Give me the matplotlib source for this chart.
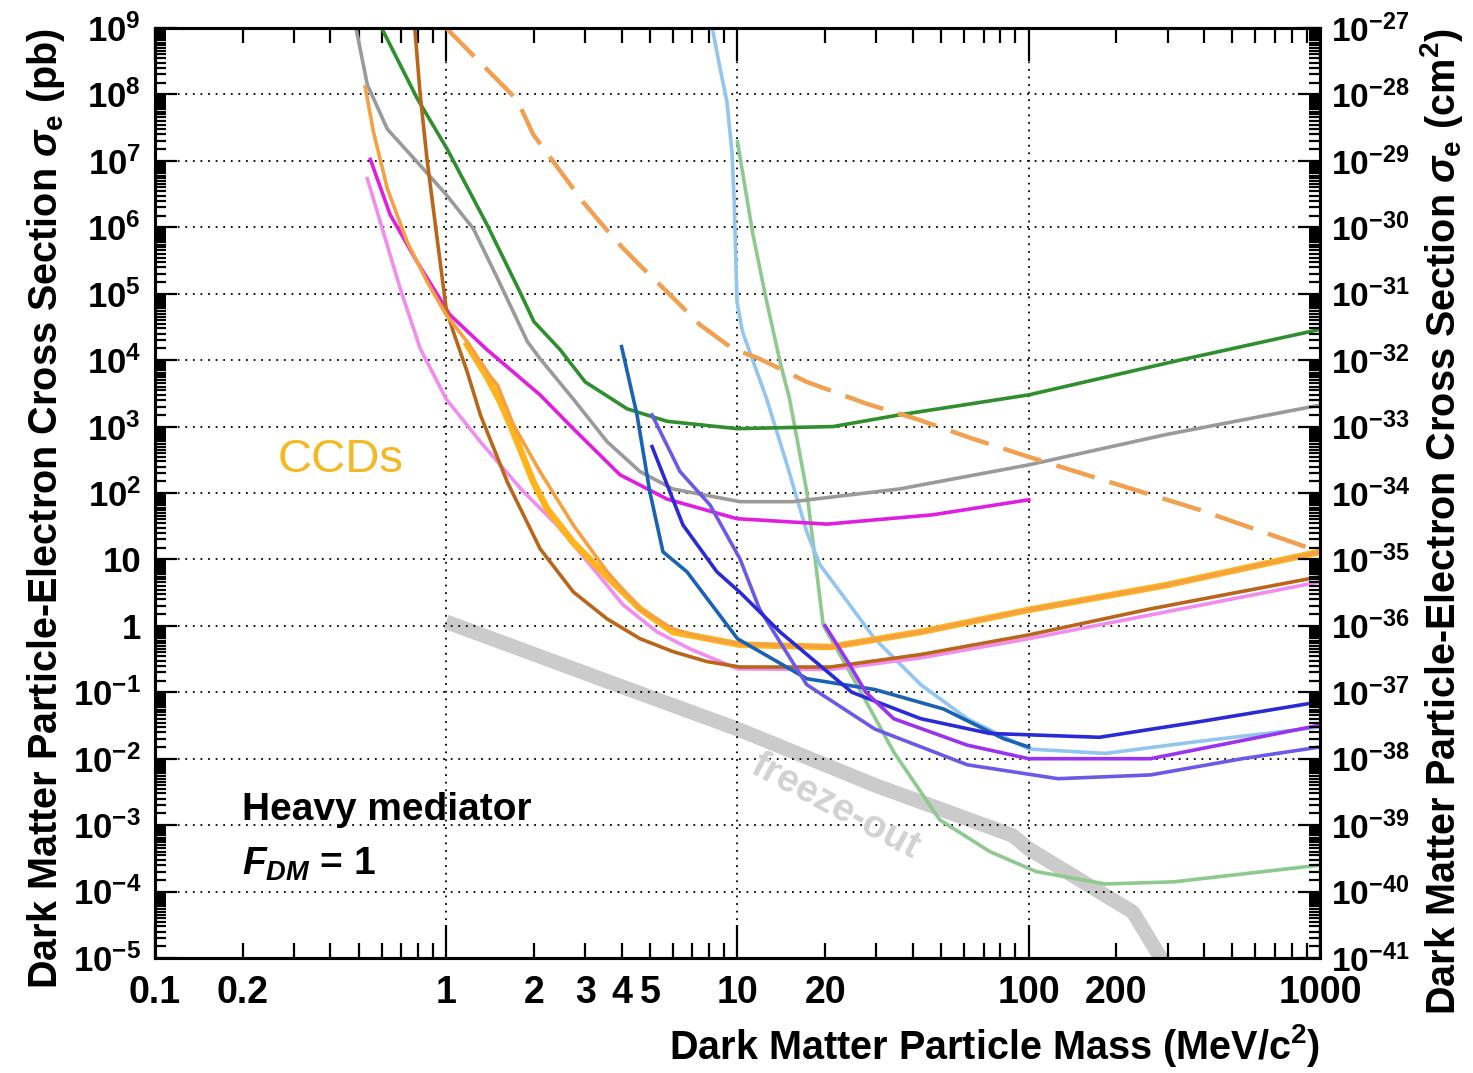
import numpy as np
import matplotlib
matplotlib.use("Agg")
import matplotlib.pyplot as plt
from matplotlib.ticker import LogLocator, FuncFormatter, NullFormatter, FixedLocator

plt.rcParams['font.family'] = ['Liberation Sans', 'DejaVu Sans']
plt.rcParams['mathtext.fontset'] = 'custom'
plt.rcParams['mathtext.rm'] = 'Liberation Sans:bold'
plt.rcParams['mathtext.bf'] = 'Liberation Sans:bold'
plt.rcParams['mathtext.it'] = 'Liberation Sans:italic:bold'

# ---------------- data (mass in MeV/c^2, cross section in pb) ----------------
green_m = [0.6, 0.795, 1.008, 1.38, 1.79, 2.0, 2.46, 3.0, 4.18, 5.73, 9.96, 21.3, 36, 100, 330, 1000]
green_s = [1e9, 8.7e7, 1.5e7, 1.1e6, 1.07e5, 3.8e4, 1.44e4, 4.7e3, 1.85e3, 1.2e3, 930, 1000, 1.5e3, 3e3, 1e4, 2.9e4]

gray_m = [0.49, 0.536, 0.628, 0.834, 1.0, 1.24, 1.50, 1.90, 2.1, 2.73, 3.57, 4.63, 6.0, 10.2, 15.5, 36, 100, 297, 1000]
gray_s = [1e9, 1.4e8, 3.0e7, 7.6e6, 3.1e6, 9.5e5, 1.7e5, 1.9e4, 1.05e4, 2.6e3, 590, 210, 115, 74, 74, 115, 265, 760, 2.1e3]

magenta_m = [0.549, 0.642, 0.795, 1.03, 1.38, 2.1, 2.73, 3.95, 5.73, 9.96, 20.3, 46.9, 100]
magenta_s = [1.05e7, 1.55e6, 3.0e5, 4.8e4, 1.44e4, 3e3, 930, 188, 81, 41, 34, 47, 79]

orange_m = [0.527, 0.562, 0.628, 0.735, 0.861, 1.0, 1.18, 1.42, 1.50, 1.70, 2.1, 2.73, 3.57, 4.63, 6.0, 7.85, 10.2, 20.8, 42.6, 100, 297, 1000]
orange_s = [1.3e8, 2.8e7, 3.8e6, 6e5, 1.5e5, 4.8e4, 1.9e4, 5.6e3, 4.2e3, 1.07e3, 209, 33, 6.5, 1.8, 0.9, 0.64, 0.54, 0.48, 0.81, 1.74, 4.1, 13]

gold_m = [1.18, 1.38, 1.53, 1.70, 1.99, 2.22, 2.73, 3.57, 4.63, 6.0, 10.2, 20.8, 42.6, 100, 297, 1000]
gold_s = [1.7e4, 5.6e3, 2.4e3, 830, 147, 58, 18, 5.5, 1.8, 0.81, 0.52, 0.48, 0.81, 1.74, 4.1, 13]

brown_m = [0.78, 0.814, 0.861, 0.931, 1.0, 1.057, 1.18, 1.31, 1.62, 2.1, 2.73, 3.57, 4.63, 6.0, 7.85, 10.2, 20.8, 42.6, 100, 262, 1000]
brown_s = [1e9, 1e8, 9.8e6, 6.7e5, 5.9e4, 2.7e4, 6.7e3, 1.5e3, 147, 14.5, 3.25, 1.27, 0.64, 0.41, 0.29, 0.24, 0.24, 0.37, 0.73, 1.8, 5.5]

pink_m = [0.536, 0.594, 0.695, 0.814, 1.0, 1.31, 1.84, 2.4, 3.12, 4.05, 5.3, 6.87, 10, 20.8, 42.6, 100, 1000]
pink_s = [5.4e6, 1.2e6, 1.2e5, 1.5e4, 2.6e3, 590, 105, 33, 8.3, 2.07, 0.81, 0.45, 0.225, 0.22, 0.33, 0.64, 4.6]

dashed_m = [1.0, 1.75, 1.99, 2.95, 3.86, 4.74, 5.73, 7.44, 9.6, 11.9, 17.3, 27.8, 41.2, 64.3, 100, 175, 385, 1000]
dashed_s = [1e9, 8.3e7, 2.5e7, 2.4e6, 6.0e5, 2.4e5, 1.07e5, 3.4e4, 1.5e4, 1.05e4, 4.7e3, 2.2e3, 1.3e3, 655, 350, 163, 56, 13]

steel_m = [4.0, 4.52, 5.0, 5.55, 6.71, 10, 17.3, 29.6, 51, 82, 100]
steel_s = [1.6e4, 1.5e3, 105, 13, 6.5, 0.64, 0.16, 0.11, 0.056, 0.02, 0.015]

blue_m = [5.09, 6.5, 8.5, 10.2, 14, 24.7, 42.6, 73.5, 175, 385, 1000]
blue_s = [500, 33, 6.5, 3.2, 0.81, 0.10, 0.04, 0.024, 0.021, 0.036, 0.072]

slate_m = [5.09, 6.35, 8.05, 10.2, 11.9, 14, 17.3, 29.6, 61.5, 126, 262, 541, 1000]
slate_s = [1.5e3, 210, 66, 10.2, 1.8, 0.57, 0.13, 0.028, 0.0081, 0.005, 0.0057, 0.01, 0.015]

purple_m = [20, 23.9, 27.6, 34.4, 61.5, 100, 262, 1000]
purple_s = [1.0, 0.29, 0.10, 0.04, 0.016, 0.01, 0.01, 0.032]

lblue_m = [8.2, 8.71, 9.2, 9.57, 9.75, 9.96, 10.4, 12.6, 14.8, 17.3, 19.2, 24.3, 29.6, 42.6, 61.5, 100, 183, 375, 1000]
lblue_s = [1e9, 2.5e8, 7.8e7, 1.4e7, 2.4e6, 7.6e4, 2.7e4, 2.6e3, 265, 26, 8.3, 2.07, 0.64, 0.13, 0.04, 0.014, 0.012, 0.018, 0.030]

lgreen_m = [10, 11.3, 12.6, 14, 15.1, 17.3, 19.7, 25.7, 34.4, 49.5, 73.5, 106, 183, 315, 1000]
lgreen_s = [1.95e7, 7.8e5, 7.6e4, 9.5e3, 2.6e3, 105, 1.03, 0.13, 0.0126, 1.2e-3, 4e-4, 2e-4, 1.3e-4, 1.4e-4, 2.5e-4]

freeze_m = [1, 3.38, 10, 29.6, 88, 100, 228, 293]
freeze_s = [1.15, 0.16, 0.028, 4e-3, 7e-4, 4.4e-4, 4.9e-5, 8e-6]

xtick_labels = {0.1: "0.1", 0.2: "0.2", 1: "1", 2: "2", 3: "3", 4: "4", 5: "5",
                10: "10", 20: "20", 100: "100", 200: "200", 1000: "1000"}
PB_TO_CM2 = 1e-36

# ---------------- figure ----------------
fig = plt.figure(figsize=(14.73, 10.73), dpi=100)
ax = fig.add_axes([0.1052, 0.1072, 0.7909, 0.8667])
ax.set_xscale('log')
ax.set_yscale('log')
ax.set_xlim(0.1, 1000)
ax.set_ylim(1e-5, 1e9)

lw = 2.6
ax.plot(freeze_m, freeze_s, color='#cbcbcb', lw=10.5, solid_capstyle='butt', zorder=1)
ax.plot(lgreen_m, lgreen_s, color='#8ec98e', lw=lw, zorder=2)
ax.plot(lblue_m, lblue_s, color='#92c5ef', lw=lw, zorder=2)
ax.plot(green_m, green_s, color='#2f8f2f', lw=lw, zorder=3)
ax.plot(gray_m, gray_s, color='#9a9a9a', lw=lw, zorder=3)
ax.plot(magenta_m, magenta_s, color='#e01ee0', lw=lw, zorder=3)
ax.plot(dashed_m, dashed_s, color='#f0a050', lw=3.2, dashes=(9, 3.5), zorder=3)
ax.plot(pink_m, pink_s, color='#f28cee', lw=lw, zorder=3)
ax.plot(brown_m, brown_s, color='#b9661b', lw=lw, zorder=4)
ax.plot(gold_m, gold_s, color='#ffb41c', lw=4.8, zorder=4)
ax.plot(orange_m, orange_s, color='#f5a142', lw=lw, zorder=5)
ax.plot(steel_m, steel_s, color='#1a62b4', lw=lw, zorder=5)
ax.plot(slate_m, slate_s, color='#6a5ae6', lw=lw, zorder=5)
ax.plot(blue_m, blue_s, color='#2a2ad6', lw=lw, zorder=5)
ax.plot(purple_m, purple_s, color='#9a32ee', lw=lw, zorder=5)

# grid
ax.grid(which='major', axis='both', color='black', linestyle=(0, (1, 3.2)), lw=1.3, zorder=0)

# x ticks
ax.xaxis.set_major_locator(FixedLocator([0.1, 1, 10, 100, 1000]))
ax.xaxis.set_minor_locator(LogLocator(base=10, subs=np.arange(2, 10), numticks=20))
def xfmt(v, pos):
    for k, s in xtick_labels.items():
        if abs(v / k - 1) < 1e-6:
            return s
    return ""
ax.xaxis.set_major_formatter(FuncFormatter(xfmt))
ax.xaxis.set_minor_formatter(FuncFormatter(xfmt))

# y ticks
ax.yaxis.set_major_locator(FixedLocator([10.0 ** k for k in range(-5, 10)]))
ax.yaxis.set_minor_locator(LogLocator(base=10, subs=np.arange(1.5, 10, 0.5), numticks=30))
def yfmt(v, pos):
    n = int(round(np.log10(v)))
    if n == 0:
        return "1"
    if n == 1:
        return "10"
    return r"$\mathbf{10^{%d}}$" % n
ax.yaxis.set_major_formatter(FuncFormatter(yfmt))
ax.yaxis.set_minor_formatter(NullFormatter())

ax.tick_params(which='both', direction='in', top=True, right=False, width=1.6)
ax.tick_params(axis='y', which='major', length=16, pad=10, labelsize=25)
ax.tick_params(axis='y', which='minor', length=8)
ax.tick_params(axis='x', which='major', length=24, pad=12, labelsize=27)
ax.tick_params(axis='x', which='minor', length=11, pad=12, labelsize=27)
for lab in ax.get_xticklabels(which='both') + ax.get_yticklabels():
    lab.set_fontweight('bold')
for sp in ax.spines.values():
    sp.set_linewidth(2.2)

# right axis (cm^2)
ax2 = ax.twinx()
ax2.set_yscale('log')
ax2.set_ylim(1e-5 * PB_TO_CM2, 1e9 * PB_TO_CM2)
ax2.yaxis.set_major_locator(FixedLocator([10.0 ** k for k in range(-41, -26)]))
ax2.yaxis.set_minor_locator(LogLocator(base=10, subs=np.arange(1.5, 10, 0.5), numticks=30))
ax2.yaxis.set_major_formatter(FuncFormatter(yfmt))
ax2.yaxis.set_minor_formatter(NullFormatter())
ax2.tick_params(which='both', direction='in', labelsize=24, width=1.6, pad=8)
ax2.tick_params(which='major', length=16)
ax2.tick_params(which='minor', length=8)
for sp in ax2.spines.values():
    sp.set_linewidth(2.2)
for lab in ax2.get_yticklabels():
    lab.set_va('center_baseline')

ax.set_ylabel(r"Dark Matter Particle-Electron Cross Section $\sigma_{\mathrm{e}}$ (pb)",
              fontsize=28.5, fontweight='bold', labelpad=4, loc='top')
ax2.set_ylabel(r"Dark Matter Particle-Electron Cross Section $\sigma_{\mathrm{e}}$ (cm$^{\mathbf{2}}$)",
               fontsize=28.5, fontweight='bold', rotation=90, labelpad=6, loc='top')
ax.set_xlabel(r"Dark Matter Particle Mass (MeV/c$^{\mathbf{2}}$)", fontsize=28.5,
              fontweight='bold', loc='right', labelpad=8)

# annotations
ax.text(0.159, 0.535, "CCDs", transform=ax.transAxes, fontsize=34, color='#f5b820',
        ha='center', va='center')
ax.text(0.0747, 0.159, "Heavy mediator", transform=ax.transAxes, fontsize=28,
        fontweight='bold', ha='left', va='center')
ax.text(0.0747, 0.101, r"$F_{DM}$ = 1", transform=ax.transAxes, fontsize=28,
        fontweight='bold', ha='left', va='center')
ax.text(0.584, 0.163, "freeze-out", transform=ax.transAxes, fontsize=28,
        fontweight='bold', color='#d2d2d2', ha='center', va='center', rotation=-28)

fig.savefig("out.png", dpi=100, facecolor='white')
